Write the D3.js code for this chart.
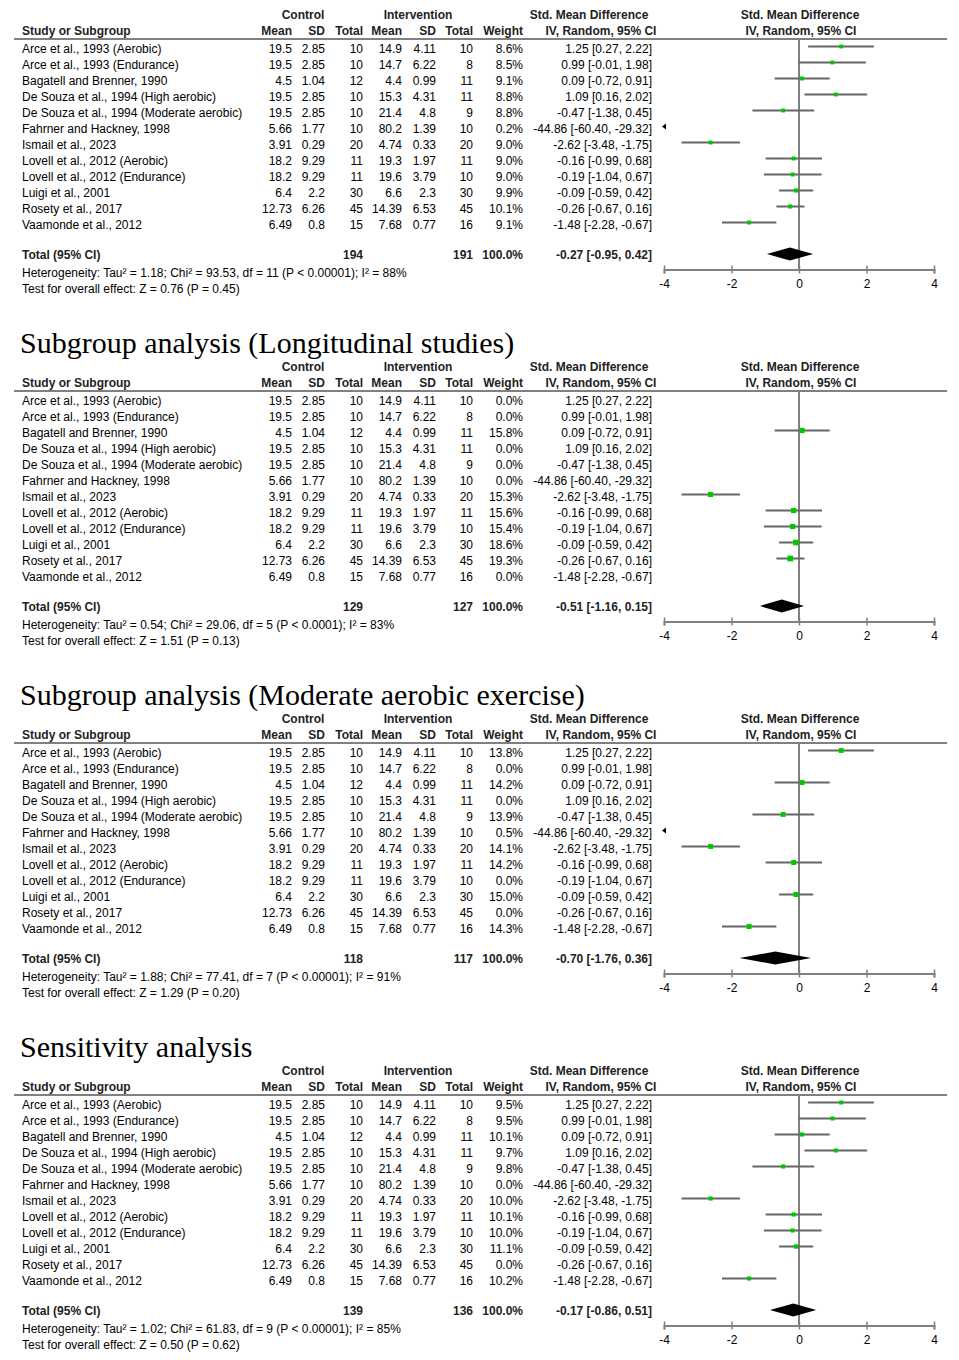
<html>
<head>
<script src="https://d3js.org/d3.v7.min.js"></script>
<style>
  body { margin: 0; background: #fff; }
  text { font-family: Arial, "Liberation Sans", sans-serif; font-size: 12px; }
</style>
</head>
<body>
<svg width="959" height="1360"></svg>
<script>

// study level data (same in every panel)
var studies = ["Arce et al., 1993 (Aerobic)", "Arce et al., 1993 (Endurance)", "Bagatell and Brenner, 1990",
  "De Souza et al., 1994 (High aerobic)", "De Souza et al., 1994 (Moderate aerobic)", "Fahrner and Hackney, 1998",
  "Ismail et al., 2023", "Lovell et al., 2012 (Aerobic)", "Lovell et al., 2012 (Endurance)", "Luigi et al., 2001",
  "Rosety et al., 2017", "Vaamonde et al., 2012"];
var ctrlMean = [19.5, 19.5, 4.5, 19.5, 19.5, 5.66, 3.91, 18.2, 18.2, 6.4, 12.73, 6.49];
var ctrlSD   = [2.85, 2.85, 1.04, 2.85, 2.85, 1.77, 0.29, 9.29, 9.29, 2.2, 6.26, 0.8];
var ctrlN    = [10, 10, 12, 10, 10, 10, 20, 11, 11, 30, 45, 15];
var intMean  = [14.9, 14.7, 4.4, 15.3, 21.4, 80.2, 4.74, 19.3, 19.6, 6.6, 14.39, 7.68];
var intSD    = [4.11, 6.22, 0.99, 4.31, 4.8, 1.39, 0.33, 1.97, 3.79, 2.3, 6.53, 0.77];
var intN     = [10, 8, 11, 11, 9, 10, 20, 11, 10, 30, 45, 16];
var smd      = [1.25, 0.99, 0.09, 1.09, -0.47, -44.86, -2.62, -0.16, -0.19, -0.09, -0.26, -1.48];
var ciLow    = [0.27, -0.01, -0.72, 0.16, -1.38, -60.40, -3.48, -0.99, -1.04, -0.59, -0.67, -2.28];
var ciHigh   = [2.22, 1.98, 0.91, 2.02, 0.45, -29.32, -1.75, 0.68, 0.67, 0.42, 0.16, -0.67];

// weights (%) per analysis
var weightsAll          = [8.6, 8.5, 9.1, 8.8, 8.8, 0.2, 9.0, 9.0, 9.0, 9.9, 10.1, 9.1];
var weightsLongitudinal = [0.0, 0.0, 15.8, 0.0, 0.0, 0.0, 15.3, 15.6, 15.4, 18.6, 19.3, 0.0];
var weightsModerate     = [13.8, 0.0, 14.2, 0.0, 13.9, 0.5, 14.1, 14.2, 0.0, 15.0, 0.0, 14.3];
var weightsSensitivity  = [9.5, 9.5, 10.1, 9.7, 9.8, 0.0, 10.0, 10.1, 10.0, 11.1, 0.0, 10.2];

// pooled results per analysis
var panelTitles = ["", "Subgroup analysis (Longitudinal studies)", "Subgroup analysis (Moderate aerobic exercise)", "Sensitivity analysis"];
var totalCtrl = [194, 129, 118, 139];
var totalInt  = [191, 127, 117, 136];
var pooledEst = [-0.27, -0.51, -0.70, -0.17];
var pooledLow = [-0.95, -1.16, -1.76, -0.86];
var pooledHigh = [0.42, 0.15, 0.36, 0.51];
var heterogeneity = [
  "Heterogeneity: Tau² = 1.18; Chi² = 93.53, df = 11 (P < 0.00001); I² = 88%",
  "Heterogeneity: Tau² = 0.54; Chi² = 29.06, df = 5 (P < 0.0001); I² = 83%",
  "Heterogeneity: Tau² = 1.88; Chi² = 77.41, df = 7 (P < 0.00001); I² = 91%",
  "Heterogeneity: Tau² = 1.02; Chi² = 61.83, df = 9 (P < 0.00001); I² = 85%"];
var overallEffect = [
  "Test for overall effect: Z = 0.76 (P = 0.45)",
  "Test for overall effect: Z = 1.51 (P = 0.13)",
  "Test for overall effect: Z = 1.29 (P = 0.20)",
  "Test for overall effect: Z = 0.50 (P = 0.62)"];
var axisTicks = [-4, -2, 0, 2, 4];

var panelWeights = [weightsAll, weightsLongitudinal, weightsModerate, weightsSensitivity];

var svg = d3.select("svg");
var x = d3.scaleLinear().domain([-4, 4]).range([664, 934]);

var col = {study: 22, cMean: 292, cSD: 325, cN: 363, iMean: 402, iSD: 436, iN: 473, w: 523, ci: 652};
var rowH = 16, firstRow = 53, headerLine = 39, axisY = 269.5;
var gray = "#808080", ciGray = "#666";

function txt(g, x0, y0, s, anchor, bold) {
  return g.append("text").attr("x", x0).attr("y", y0)
    .attr("text-anchor", anchor || "start")
    .attr("font-weight", bold ? "bold" : null)
    .attr("fill", bold ? "#222" : "#000")
    .text(s);
}

panelWeights.forEach(function(weights, p) {
  var g = svg.append("g").attr("transform", "translate(0," + (352 * p) + ")");

  if (panelTitles[p])
    g.append("text").attr("x", 20).attr("y", 1)
      .style("font-family", "'Times New Roman', 'Liberation Serif', serif")
      .style("font-size", "30px")
      .text(panelTitles[p]);

  // headers
  txt(g, 303, 19, "Control", "middle", true);
  txt(g, 418, 19, "Intervention", "middle", true);
  txt(g, 589, 19, "Std. Mean Difference", "middle", true);
  txt(g, 800, 19, "Std. Mean Difference", "middle", true);
  txt(g, col.study, 35, "Study or Subgroup", "start", true);
  txt(g, col.cMean, 35, "Mean", "end", true);
  txt(g, col.cSD, 35, "SD", "end", true);
  txt(g, col.cN, 35, "Total", "end", true);
  txt(g, col.iMean, 35, "Mean", "end", true);
  txt(g, col.iSD, 35, "SD", "end", true);
  txt(g, col.iN, 35, "Total", "end", true);
  txt(g, col.w, 35, "Weight", "end", true);
  txt(g, 601, 35, "IV, Random, 95% CI", "middle", true);
  txt(g, 801, 35, "IV, Random, 95% CI", "middle", true);

  g.append("line").attr("x1", 14).attr("x2", 947).attr("y1", headerLine).attr("y2", headerLine)
    .attr("stroke", gray).attr("stroke-width", 2);

  // zero line
  g.append("line").attr("x1", x(0)).attr("x2", x(0)).attr("y1", headerLine).attr("y2", axisY)
    .attr("stroke", gray).attr("stroke-width", 2);

  // study rows
  studies.forEach(function(s, i) {
    var by = firstRow + i * rowH;
    txt(g, col.study, by, s);
    txt(g, col.cMean, by, String(ctrlMean[i]), "end");
    txt(g, col.cSD, by, String(ctrlSD[i]), "end");
    txt(g, col.cN, by, String(ctrlN[i]), "end");
    txt(g, col.iMean, by, String(intMean[i]), "end");
    txt(g, col.iSD, by, String(intSD[i]), "end");
    txt(g, col.iN, by, String(intN[i]), "end");
    txt(g, col.w, by, weights[i].toFixed(1) + "%", "end");
    txt(g, col.ci, by, smd[i].toFixed(2) + " [" + ciLow[i].toFixed(2) + ", " + ciHigh[i].toFixed(2) + "]", "end");

    if (weights[i] <= 0) return;
    var cy = by - 6.5;
    if (ciHigh[i] < -4) {
      var ax = x(-4);
      g.append("path")
        .attr("d", "M" + (ax - 2) + "," + cy + "L" + (ax + 2) + "," + (cy - 3) + "L" + (ax + 2) + "," + (cy + 3) + "Z")
        .attr("fill", "#000");
      return;
    }
    g.append("line")
      .attr("x1", x(Math.max(ciLow[i], -4))).attr("x2", x(Math.min(ciHigh[i], 4)))
      .attr("y1", cy).attr("y2", cy)
      .attr("stroke", ciGray).attr("stroke-width", 2);
    var side = 1.3 * Math.sqrt(weights[i]);
    g.append("rect")
      .attr("x", x(smd[i]) - side / 2).attr("y", cy - side / 2)
      .attr("width", side).attr("height", side)
      .attr("fill", "#00c800");
  });

  // total row
  var ty = 259;
  txt(g, col.study, ty, "Total (95% CI)", "start", true);
  txt(g, col.cN, ty, String(totalCtrl[p]), "end", true);
  txt(g, col.iN, ty, String(totalInt[p]), "end", true);
  txt(g, col.w, ty, "100.0%", "end", true);
  txt(g, col.ci, ty, pooledEst[p].toFixed(2) + " [" + pooledLow[p].toFixed(2) + ", " + pooledHigh[p].toFixed(2) + "]", "end", true);

  var dy = ty - 5;
  g.append("path")
    .attr("d", "M" + x(pooledLow[p]) + "," + dy + "L" + x(pooledEst[p]) + "," + (dy - 6.5) +
      "L" + x(pooledHigh[p]) + "," + dy + "L" + x(pooledEst[p]) + "," + (dy + 6.5) + "Z")
    .attr("fill", "#000");

  txt(g, col.study, 277, heterogeneity[p]);
  txt(g, col.study, 293, overallEffect[p]);

  // axis
  var ax = g.append("g").attr("transform", "translate(0," + axisY + ")")
    .call(d3.axisBottom(x).tickValues(axisTicks).tickSizeOuter(0).tickSize(4).tickPadding(6)
      .tickFormat(function(d) { return String(d); }));
  ax.select(".domain").attr("stroke", gray).attr("stroke-width", 2);
  ax.selectAll(".tick line").attr("y1", -4).attr("y2", 4).attr("stroke", gray).attr("stroke-width", 1.5);
  ax.selectAll(".tick text").attr("fill", "#000").style("font-size", "12px").style("font-family", "Arial, 'Liberation Sans', sans-serif");
});
</script>
</body>
</html>
